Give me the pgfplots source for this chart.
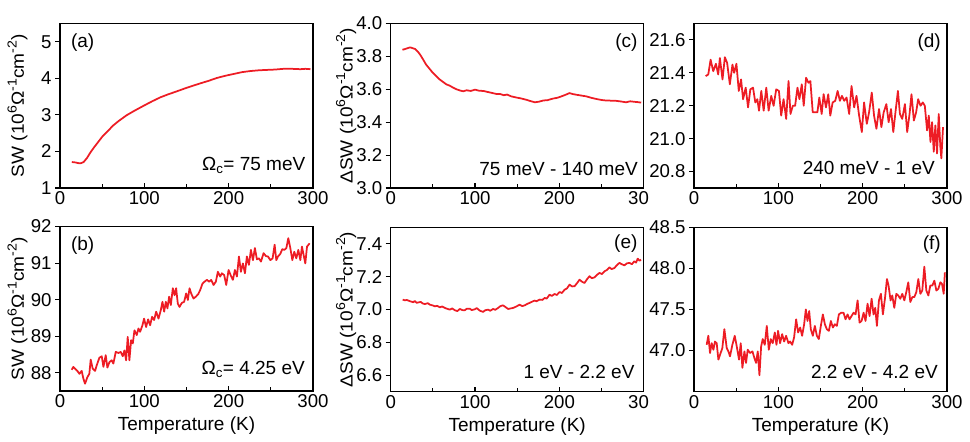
\documentclass[border=0pt]{standalone}
\usepackage{pgfplots}
\pgfplotsset{compat=1.18}
\usepackage{graphicx}
\usepackage{fontspec}
\setmainfont{Liberation Sans}
\definecolor{myred}{RGB}{237,28,36}
\newcommand{\tfont}{\fontsize{18.6}{21}\selectfont}
\newcommand{\lfont}{\fontsize{19}{22}\selectfont}
\newcommand{\yfont}{\fontsize{17.5}{20}\selectfont}
\newcommand{\sps}[1]{\raisebox{0.42em}{\fontsize{13}{14}\selectfont #1}}
\newcommand{\swunit}{(10\sps{6}Ω\sps{-1}cm\sps{-2})}
\tikzset{lab/.style={font=\lfont, inner sep=0pt}}
\pgfplotsset{
  every axis/.append style={
    scale only axis, width=253pt, height=164.5pt, anchor=south west,
    xmin=0, xmax=300, xtick={0,100,200,300}, minor xtick={50,150,250},
    tick pos=left, xtick align=inside, ytick align=outside,
    major tick length=5pt, minor tick length=4pt,
    axis line style={line width=1.3pt, black},
    every tick/.style={line width=1.1pt, black},
    tick label style={font=\tfont},
    /pgf/number format/assume math mode=true,
    ylabel style={at={(axis description cs:-0.168,0.5)}, anchor=center, font=\yfont},
    xlabel style={at={(axis description cs:0.5,0)}, anchor=base, yshift=-40pt, font=\lfont},
  },
  every axis plot post/.append style={myred, line width=1.75pt, mark=none, line join=round},
  dec1/.style={yticklabel style={/pgf/number format/.cd, fixed, fixed zerofill, precision=1}},
}
\begin{document}
\begin{tikzpicture}
\useasboundingbox (0,0) rectangle (970pt,442pt);
% (a)
\begin{axis}[at={(60pt,254pt)}, ymin=1, ymax=5.5, ytick={1,2,3,4,5},
  ylabel={\scalebox{1.09}[1]{SW \swunit}}]
\addplot coordinates {(14,1.71)(18,1.70)(22,1.68)(25,1.68)(28,1.71)(32,1.82)(36,1.97)(40,2.10)(45,2.25)(50,2.40)(56,2.54)(63,2.71)(70,2.84)(79,2.99)(88,3.11)(100,3.26)(110,3.38)(119,3.48)(128,3.56)(138,3.64)(150,3.74)(158,3.80)(166,3.86)(176,3.93)(186,4.01)(196,4.07)(206,4.12)(216,4.17)(226,4.20)(236,4.22)(245,4.23)(255,4.24)(265,4.26)(275,4.26)(285,4.25)(291,4.26)(297,4.25)};
\node[lab, anchor=north west] at (rel axis cs:0.043,0.94) {(a)};
\node[lab, anchor=base east, xshift=-7.5pt, yshift=17pt] at (rel axis cs:1,0) {Ω\textsubscript{c}= 75 meV};
\end{axis}
% (c)
\begin{axis}[at={(390.7pt,254pt)}, ymin=3.0, ymax=4.0, ytick={3.0,3.2,3.4,3.6,3.8,4.0}, dec1,
  ylabel style={at={(axis description cs:-0.176,0.5)}},
  ylabel={\scalebox{1.09}[1]{ΔSW \swunit}}]
\addplot coordinates {(14,3.84)(17,3.845)(20,3.85)(23,3.855)(26,3.85)(29,3.845)(32,3.83)(35,3.81)(38,3.785)(42,3.75)(46,3.725)(50,3.70)(54,3.68)(58,3.66)(62,3.645)(66,3.63)(70,3.622)(74,3.61)(78,3.60)(82,3.593)(86,3.588)(90,3.594)(95,3.59)(100,3.598)(105,3.591)(110,3.59)(114,3.585)(120,3.578)(125,3.572)(130,3.571)(134,3.564)(138,3.568)(143,3.557)(149,3.55)(155,3.544)(161,3.536)(166,3.528)(171,3.521)(176,3.525)(181,3.532)(186,3.534)(192,3.543)(198,3.549)(204,3.56)(208,3.568)(212,3.577)(216,3.571)(220,3.567)(226,3.562)(232,3.557)(238,3.548)(244,3.541)(250,3.535)(255,3.532)(261,3.531)(267,3.53)(273,3.526)(279,3.521)(284,3.527)(289,3.524)(293,3.522)(297,3.519)};
\node[lab, anchor=north east] at (rel axis cs:0.976,0.94) {(c)};
\node[lab, anchor=base east, xshift=-5.7pt, yshift=12pt] at (rel axis cs:1,0) {75 meV - 140 meV};
\end{axis}
% (b)
\begin{axis}[at={(60pt,51pt)}, ymin=87.5, ymax=92, ytick={88,89,90,91,92},
  ylabel={\scalebox{1.09}[1]{SW \swunit}}, xlabel={Temperature (K)}]
\addplot coordinates {(13.9,88.08)(15.8,88.16)(17.8,88.11)(20.6,88.05)(23.0,87.97)(25.7,88.05)(27.7,87.84)(29.7,87.70)(32.5,87.88)(34.8,87.97)(36.4,88.36)(38.8,88.11)(41.6,88.05)(43.5,88.20)(46.7,88.41)(49.5,88.45)(51.5,88.16)(54.2,88.48)(56.2,88.14)(58.6,88.29)(61.3,88.34)(63.3,88.25)(66.1,88.57)(69.3,88.54)(72.0,88.57)(74.4,88.45)(76.4,88.61)(78.4,88.34)(80.3,88.98)(82.3,88.34)(84.3,88.89)(86.3,88.80)(88.3,89.16)(91.0,89.03)(93.0,89.21)(95.0,89.12)(97.8,89.30)(99.7,89.48)(102.1,89.25)(104.5,89.46)(106.9,89.30)(109.2,89.53)(111.6,89.44)(114.0,89.67)(116.8,89.48)(119.5,89.71)(121.5,89.94)(123.5,89.67)(125.5,89.94)(127.4,89.76)(129.4,90.08)(131.4,89.85)(133.8,90.31)(135.8,90.12)(137.7,90.31)(139.7,89.89)(141.7,89.80)(144.5,89.91)(147.2,89.94)(149.6,90.17)(151.6,89.99)(153.6,90.31)(155.5,90.17)(158.3,90.03)(161.1,90.08)(163.9,90.15)(166.2,90.26)(169.0,90.44)(171.4,90.49)(174.2,90.54)(176.9,90.49)(179.3,90.54)(182.1,90.40)(184.8,90.49)(187.2,90.76)(190.0,90.63)(191.9,90.72)(194.7,90.67)(197.1,90.40)(199.9,90.81)(202.7,90.65)(205.0,90.54)(207.4,90.81)(209.8,90.63)(212.2,91.18)(214.5,90.76)(216.9,90.99)(219.3,90.72)(221.6,91.18)(224.0,90.95)(226.4,91.36)(228.8,91.08)(231.1,91.41)(233.5,91.10)(235.9,91.13)(238.3,91.04)(241.4,91.27)(244.2,91.19)(246.6,91.18)(249.4,91.08)(252.1,91.13)(254.5,91.50)(256.5,91.08)(258.5,91.18)(261.2,91.25)(263.6,91.38)(266.0,91.36)(268.4,91.41)(270.7,91.68)(273.1,91.41)(275.5,91.08)(277.8,91.31)(280.2,91.13)(282.6,91.36)(285.0,91.08)(286.9,91.45)(288.9,91.22)(290.9,90.99)(292.9,91.45)(296.0,91.54)};
\node[lab, anchor=north west] at (rel axis cs:0.043,0.94) {(b)};
\node[lab, anchor=base east, xshift=-8pt, yshift=16.4pt] at (rel axis cs:1,0) {Ω\textsubscript{c}= 4.25 eV};
\end{axis}
% (e)
\begin{axis}[at={(390.7pt,50.3pt)}, ymin=6.5, ymax=7.5, ytick={6.6,6.8,7.0,7.2,7.4}, dec1,
  ylabel style={at={(axis description cs:-0.176,0.5)}},
  ylabel={\scalebox{1.09}[1]{ΔSW \swunit}}, xlabel={Temperature (K)}]
\addplot coordinates {(14.2,7.06)(17,7.055)(18.9,7.058)(22.9,7.05)(26.8,7.044)(28.5,7.052)(30.7,7.04)(35.5,7.046)(38,7.036)(40.6,7.033)(44,7.038)(46.5,7.029)(50,7.024)(52.4,7.019)(55,7.022)(58.3,7.013)(61,7.018)(64.3,7.009)(67,7.004)(70.2,6.999)(73,7.006)(76.1,6.995)(79,6.99)(82.0,7.003)(85,6.996)(87.9,6.995)(90,7.004)(93.8,7.005)(96,6.996)(99.7,7.001)(102,7.008)(105.6,6.993)(107,6.99)(109.6,6.985)(112,6.995)(115.5,6.999)(118,6.992)(121.4,7.003)(124,6.998)(127.3,7.009)(130,7.02)(133.2,7.025)(136,7.015)(139.2,7.003)(142,7.006)(145.1,7.009)(149,7.018)(152.9,7.029)(156,7.02)(158.9,7.025)(162,7.034)(164.8,7.04)(168,7.048)(170.7,7.054)(173,7.05)(176.6,7.06)(180,7.058)(182.5,7.07)(185,7.066)(188.4,7.09)(191,7.082)(194.3,7.094)(197,7.088)(200.3,7.106)(203,7.1)(206.2,7.12)(209,7.128)(212.1,7.151)(215,7.14)(218.0,7.141)(221,7.16)(223.9,7.181)(227,7.168)(229.8,7.161)(233,7.185)(235.7,7.202)(238.5,7.19)(241.6,7.195)(244.5,7.21)(247.6,7.222)(250.5,7.215)(253.5,7.232)(256.5,7.24)(259.4,7.256)(262,7.245)(265.3,7.252)(268,7.268)(271.2,7.283)(274,7.275)(277.1,7.268)(280,7.28)(283.0,7.283)(286,7.275)(288.9,7.293)(291,7.285)(292.9,7.309)(295,7.296)(296.8,7.303)};
\node[lab, anchor=north east] at (rel axis cs:0.976,0.955) {(e)};
\node[lab, anchor=base east, xshift=-9pt, yshift=13.4pt] at (rel axis cs:1,0) {1 eV - 2.2 eV};
\end{axis}
% hide the last digit of the 300 labels of (c) and (e), as in the reference
\fill[white] (649pt,222pt) rectangle (692pt,252pt);
\fill[white] (649pt,22pt) rectangle (692pt,49pt);
% (d)
\begin{axis}[at={(694pt,254pt)}, ymin=20.7, ymax=21.7, ytick={20.8,21.0,21.2,21.4,21.6}, dec1]
\addplot coordinates {(13.8,21.38)(16.9,21.39)(19.7,21.48)(22.8,21.41)(26.0,21.455)(28.7,21.39)(30.7,21.49)(33.8,21.36)(36.6,21.495)(39.3,21.46)(42.5,21.33)(45.6,21.45)(47.6,21.40)(50.3,21.455)(53.1,21.29)(55.8,21.36)(58.2,21.24)(61.3,21.31)(64.1,21.19)(66.8,21.30)(70.0,21.31)(72.7,21.22)(75.1,21.24)(77.1,21.17)(79.8,21.29)(82.6,21.17)(85.7,21.31)(88.5,21.17)(91.6,21.26)(94.4,21.20)(97.5,21.30)(100.7,21.29)(103.4,21.14)(106.2,21.24)(109.3,21.12)(112.1,21.35)(114.4,21.15)(117.2,21.20)(119.9,21.20)(122.7,21.31)(125.0,21.24)(127.8,21.33)(130.1,21.20)(132.9,21.37)(135.7,21.34)(138.0,21.35)(140.8,21.16)(143.5,21.16)(146.3,21.16)(148.6,21.25)(151.4,21.15)(153.7,21.27)(156.5,21.19)(159.2,21.27)(161.6,21.14)(164.4,21.22)(167.5,21.23)(170.3,21.29)(173.0,21.23)(175.4,21.26)(178.1,21.23)(180.9,21.25)(184.0,21.15)(186.8,21.32)(189.9,21.19)(192.7,21.26)(195.8,21.14)(199.0,21.04)(201.7,21.22)(204.9,21.09)(207.6,21.16)(210.8,21.28)(213.5,21.14)(216.3,21.06)(219.4,21.18)(222.2,21.07)(224.9,21.16)(228.1,21.21)(230.8,21.10)(233.6,21.18)(236.3,21.04)(239.1,21.17)(241.8,21.29)(244.2,21.15)(246.9,21.12)(250.1,21.21)(252.8,21.04)(255.6,21.15)(257.9,21.27)(260.7,21.11)(263.4,21.16)(265.8,21.24)(268.6,21.20)(271.3,21.22)(273.7,21.20)(276.4,21.05)(278.4,21.14)(280.4,20.98)(282.3,21.10)(284.3,20.92)(286.2,21.08)(288.2,20.91)(290.2,21.15)(292.1,20.95)(293.3,20.88)(295.3,21.07)};
\node[lab, anchor=north east] at (rel axis cs:0.976,0.94) {(d)};
\node[lab, anchor=base east, xshift=-12pt, yshift=13pt] at (rel axis cs:1,0) {240 meV - 1 eV};
\end{axis}
% (f)
\begin{axis}[at={(694pt,50.3pt)}, ymin=46.5, ymax=48.5, ytick={47.0,47.5,48.0,48.5}, dec1, xlabel={Temperature (K)}]
\addplot coordinates {(15.0,47.07)(17.0,47.18)(19.0,46.97)(21.0,47.09)(23.0,47.01)(24.9,47.11)(26.9,47.09)(28.9,46.89)(30.9,46.95)(33.6,47.03)(36.0,47.26)(38.8,47.03)(40.8,46.99)(42.7,46.93)(45.5,47.07)(48.3,47.18)(50.7,47.05)(53.4,46.89)(55.4,47.09)(57.4,46.79)(59.8,46.99)(61.7,46.85)(63.7,47.01)(66.5,46.97)(69.3,46.99)(71.6,46.91)(73.6,46.85)(75.6,46.99)(77.6,46.70)(79.6,47.05)(81.5,47.14)(83.9,47.07)(86.3,47.30)(88.7,47.01)(91.0,47.14)(93.4,47.09)(95.8,47.22)(97.8,47.07)(99.7,47.24)(102.1,47.09)(104.5,47.20)(106.9,47.11)(109.2,47.18)(112.0,47.09)(114.0,47.11)(116.4,47.07)(118.7,47.16)(121.1,47.38)(123.5,47.22)(125.9,47.28)(128.2,47.18)(130.6,47.32)(132.6,47.50)(134.6,47.36)(136.6,47.48)(138.5,47.26)(140.9,47.18)(143.3,47.30)(145.7,47.18)(148.0,47.14)(150.4,47.30)(152.8,47.44)(155.2,47.32)(157.5,47.26)(159.9,47.24)(162.3,47.36)(164.7,47.28)(167.0,47.32)(169.4,47.30)(171.8,47.44)(174.5,47.46)(177.3,47.46)(179.7,47.38)(182.1,47.44)(184.4,47.38)(186.8,47.42)(189.2,47.46)(191.6,47.44)(194.0,47.61)(196.3,47.34)(198.7,47.36)(201.1,47.46)(203.4,47.36)(205.8,47.57)(208.2,47.42)(210.6,47.63)(212.9,47.44)(214.9,47.52)(216.9,47.30)(219.3,47.61)(221.6,47.69)(224.0,47.44)(226.4,47.63)(228.8,47.87)(230.7,47.79)(233.1,47.61)(235.1,47.67)(237.5,47.52)(239.9,47.69)(242.2,47.67)(244.6,47.63)(247.0,47.69)(249.4,47.61)(251.7,47.71)(254.1,47.83)(256.5,47.59)(258.9,47.65)(261.2,47.65)(263.6,47.71)(266.0,47.87)(268.4,47.69)(270.7,47.73)(273.1,48.02)(275.5,47.73)(277.9,47.67)(280.2,47.79)(282.6,47.79)(285.0,47.85)(287.4,47.73)(289.7,47.75)(292.1,47.83)(294.1,47.81)(296.1,47.69)(297.5,47.95)};
\node[lab, anchor=north east] at (rel axis cs:0.976,0.947) {(f)};
\node[lab, anchor=base east, xshift=-9pt, yshift=12.7pt] at (rel axis cs:1,0) {2.2 eV - 4.2 eV};
\end{axis}
\end{tikzpicture}
\end{document}
